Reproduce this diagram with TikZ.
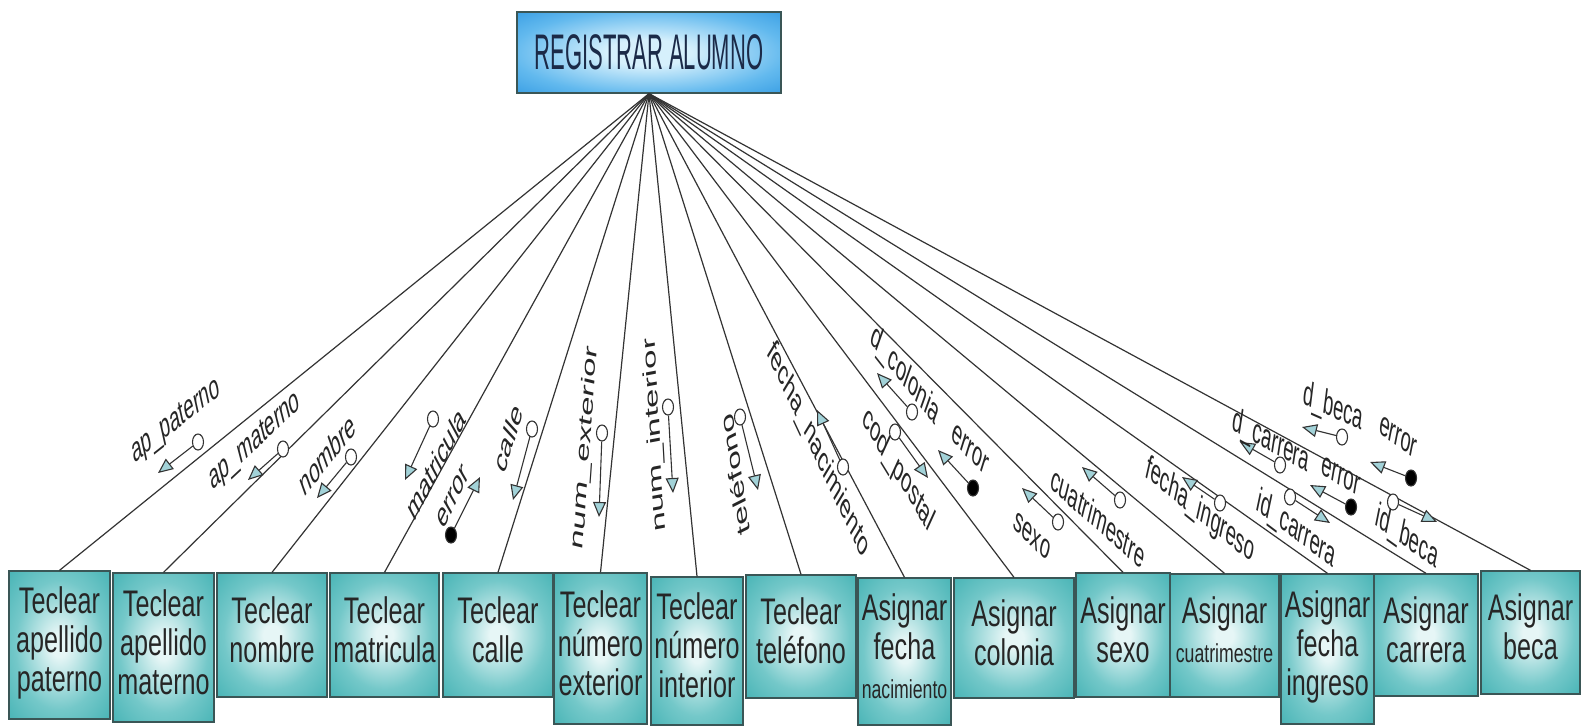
\documentclass[tikz,border=0pt]{standalone}
\usepackage{fontspec}
\setmainfont{Liberation Sans}
\usetikzlibrary{arrows.meta,shapes.geometric}

\definecolor{linegray}{HTML}{333333}
\definecolor{boxedge}{HTML}{3A5656}
\definecolor{tealout}{HTML}{34ABAD}
\definecolor{tealmid}{HTML}{74C8C9}
\definecolor{tealin}{HTML}{E6F6F6}
\definecolor{blueout}{HTML}{1A8ADC}
\definecolor{bluemid}{HTML}{62B9EE}
\definecolor{bluein}{HTML}{D6F0FC}
\definecolor{titletext}{HTML}{1B2A48}
\definecolor{tipfill}{HTML}{A2D2D8}

% soft glow used inside the module boxes
\pgfdeclareradialshading{tealglow}{\pgfpoint{0bp}{0bp}}{%
  color(0bp)=(tealin); color(4bp)=(tealin); color(22bp)=(tealmid);
  color(42bp)=(tealout); color(72bp)=(tealout)}
\pgfdeclareradialshading{blueglow}{\pgfpoint{0bp}{0bp}}{%
  color(0bp)=(bluein); color(8bp)=(bluein); color(26bp)=(bluemid);
  color(44bp)=(blueout); color(72bp)=(blueout)}

% condensed multi-line caption for the module boxes
\newcommand\boxlines[1]{\scalebox{0.68}[1]{\fontsize{37}{39}\selectfont\begin{tabular}{@{}c@{}}#1\end{tabular}}}
\newcommand\smallline[1]{{\fontsize{26}{28}\selectfont #1}}

\tikzset{
  link/.style={draw=linegray, line width=1.2pt},
  modbox/.style={draw=boxedge, line width=1.3pt, shading=tealglow,
                 inner sep=0pt, text=black!85},
  titlebox/.style={draw=boxedge, line width=1.3pt, shading=blueglow,
                 inner sep=0pt, text=titletext},
  couple/.style={draw=linegray, line width=1.1pt, -{Triangle[length=15pt,width=13pt,fill=tipfill]}},
  datum/.style={ellipse, draw=linegray, fill=white, line width=1.1pt, minimum width=11pt,
                minimum height=16pt, inner sep=0pt},
  flag/.style={datum, fill=black},
  lbl/.style={inner sep=0pt, font=\fontsize{35}{37}\selectfont, text=black!85}
}

\begin{document}
\begin{tikzpicture}[x=1pt, y=-1pt]
\useasboundingbox[fill=white] (0,0) rectangle (1594,726);

% main module
\node[titlebox, minimum width=264pt, minimum height=81pt] (top) at (649,52.5)
  {\scalebox{0.44}[1]{\fontsize{50}{51}\selectfont REGISTRAR ALUMNO}};

% subordinate modules
\node[modbox, minimum width=101pt, minimum height=148pt] (b1) at (59.5,645) {\boxlines{Teclear\\apellido\\paterno}};
\node[modbox, minimum width=101pt, minimum height=149pt] (b2) at (163.5,647.5) {\boxlines{Teclear\\apellido\\materno}};
\node[modbox, minimum width=110pt, minimum height=124pt] (b3) at (272,635) {\boxlines{Teclear\\nombre}};
\node[modbox, minimum width=109pt, minimum height=124pt] (b4) at (384.5,635) {\boxlines{Teclear\\matricula}};
\node[modbox, minimum width=110pt, minimum height=124pt] (b5) at (498,635) {\boxlines{Teclear\\calle}};
\node[modbox, minimum width=93pt, minimum height=151pt] (b6) at (600.5,648.5) {\boxlines{Teclear\\número\\exterior}};
\node[modbox, minimum width=92pt, minimum height=148pt] (b7) at (697,651) {\boxlines{Teclear\\número\\interior}};
\node[modbox, minimum width=110pt, minimum height=123pt] (b8) at (801,636.5) {\boxlines{Teclear\\teléfono}};
\node[modbox, minimum width=93pt, minimum height=147pt] (b9) at (904.5,651.5) {\boxlines{Asignar\\fecha\\\smallline{nacimiento}}};
\node[modbox, minimum width=120pt, minimum height=120pt] (b10) at (1014,638) {\boxlines{Asignar\\colonia}};
\node[modbox, minimum width=94pt, minimum height=124pt] (b11) at (1123,635) {\boxlines{Asignar\\sexo}};
\node[modbox, minimum width=109pt, minimum height=123pt] (b12) at (1224.5,635.5) {\boxlines{Asignar\\\smallline{cuatrimestre}}};
\node[modbox, minimum width=93pt, minimum height=150pt] (b13) at (1327.5,649) {\boxlines{Asignar\\fecha\\ingreso}};
\node[modbox, minimum width=104pt, minimum height=122pt] (b14) at (1426,635) {\boxlines{Asignar\\carrera}};
\node[modbox, minimum width=99pt, minimum height=123pt] (b15) at (1530.5,632.5) {\boxlines{Asignar\\beca}};

% calls from the main module
\foreach \i in {1,...,15} \draw[link] (top.south) -- (b\i.north);

% data and control couples: (circle) -> tip
\node[datum] (c1) at (198,442) {};   \coordinate (t1) at (158,473);
\node[datum] (c2) at (283,449) {};   \coordinate (t2) at (248,480);
\node[datum] (c3) at (351,457) {};   \coordinate (t3) at (317,498);
\node[datum] (c4) at (433,419) {};   \coordinate (t4) at (405,480);
\node[flag]  (c5) at (451,535) {};   \coordinate (t5) at (480,477);
\node[datum] (c6) at (532,429) {};   \coordinate (t6) at (513,500);
\node[datum] (c7) at (602,433) {};   \coordinate (t7) at (599,517);
\node[datum] (c8) at (668,407) {};   \coordinate (t8) at (673,493);
\node[datum] (c9) at (740,417) {};   \coordinate (t9) at (758,490);
\node[datum] (c10) at (843,467) {};  \coordinate (t10) at (817,410);
\node[datum] (c11) at (912,412) {};  \coordinate (t11) at (877,373);
\node[datum] (c12) at (895,432) {};  \coordinate (t12) at (928,478);
\node[flag]  (c13) at (973,488) {};  \coordinate (t13) at (938,450);
\node[datum] (c14) at (1058,522) {}; \coordinate (t14) at (1022,488);
\node[datum] (c15) at (1120,500) {}; \coordinate (t15) at (1082,467);
\node[datum] (c16) at (1220,503) {}; \coordinate (t16) at (1182,477);
\node[datum] (c17) at (1280,465) {}; \coordinate (t17) at (1240,442);
\node[datum] (c18) at (1342,437) {}; \coordinate (t18) at (1302,427);
\node[flag]  (c19) at (1351,507) {}; \coordinate (t19) at (1310,485);
\node[datum] (c20) at (1290,497) {}; \coordinate (t20) at (1330,523);
\node[flag]  (c21) at (1411,478) {}; \coordinate (t21) at (1370,462);
\node[datum] (c22) at (1393,502) {}; \coordinate (t22) at (1437,522);
\foreach \i in {1,...,22} \draw[couple] (c\i) -- (t\i);

% label anchors
\coordinate (p1) at (176,422);
\coordinate (p2) at (255,442);
\coordinate (p3) at (327,454);
\coordinate (p4) at (436,463);
\coordinate (p5) at (453,497);
\coordinate (p6) at (508,438);
\coordinate (p7) at (585,448);
\coordinate (p8) at (655,435);
\coordinate (p9) at (735,475);
\coordinate (p10) at (818,450);
\coordinate (p11) at (905,376);
\coordinate (p12) at (898,470);
\coordinate (p13) at (970,449);
\coordinate (p14) at (1032,536);
\coordinate (p15) at (1098,517);
\coordinate (p16) at (1200,511);
\coordinate (p17) at (1271,442);
\coordinate (p18) at (1333,408);
\coordinate (p19) at (1341,476);
\coordinate (p20) at (1296,530);
\coordinate (p21) at (1398,437);
\coordinate (p22) at (1407,538);

% couple names, set in a horizontally condensed frame
\begin{scope}[xscale=0.53, transform shape]
\node[lbl, rotate=22.8] (l1) at (p1) {ap\_paterno};
\node[lbl, rotate=26.3] (l2) at (p2) {ap\_materno};
\node[lbl, rotate=34.1] (l3) at (p3) {nombre};
\node[lbl, rotate=45.5] (l4) at (p4) {matricula};
\node[lbl, rotate=47.4] (l5) at (p5) {error};
\node[lbl, rotate=60] (l6) at (p6) {calle};
\node[lbl, rotate=82.5] (l7) at (p7) {num\_exterior};
\node[lbl, rotate=95.7] (l8) at (p8) {num\_interior};
\node[lbl, rotate=104.9] (l9) at (p9) {teléfono};
\node[lbl, rotate=-48.7] (l10) at (p10) {fecha\_nacimiento};
\node[lbl, rotate=-34.1] (l11) at (p11) {d\_colonia};
\node[lbl, rotate=-40.9] (l12) at (p12) {cod\_postal};
\node[lbl, rotate=-30.5] (l13) at (p13) {error};
\node[lbl, rotate=-27.1] (l14) at (p14) {sexo};
\node[lbl, rotate=-25.2] (l15) at (p15) {cuatrimestre};
\node[lbl, rotate=-23.2] (l16) at (p16) {fecha\_ingreso};
\node[lbl, rotate=-16.4] (l17) at (p17) {d\_carrera};
\node[lbl, rotate=-13.3] (l18) at (p18) {d\_beca};
\node[lbl, rotate=-17.7] (l19) at (p19) {error};
\node[lbl, rotate=-21.8] (l20) at (p20) {id\_carrera};
\node[lbl, rotate=-20.4] (l21) at (p21) {error};
\node[lbl, rotate=-20.8] (l22) at (p22) {id\_beca};
\end{scope}
\end{tikzpicture}
\end{document}
